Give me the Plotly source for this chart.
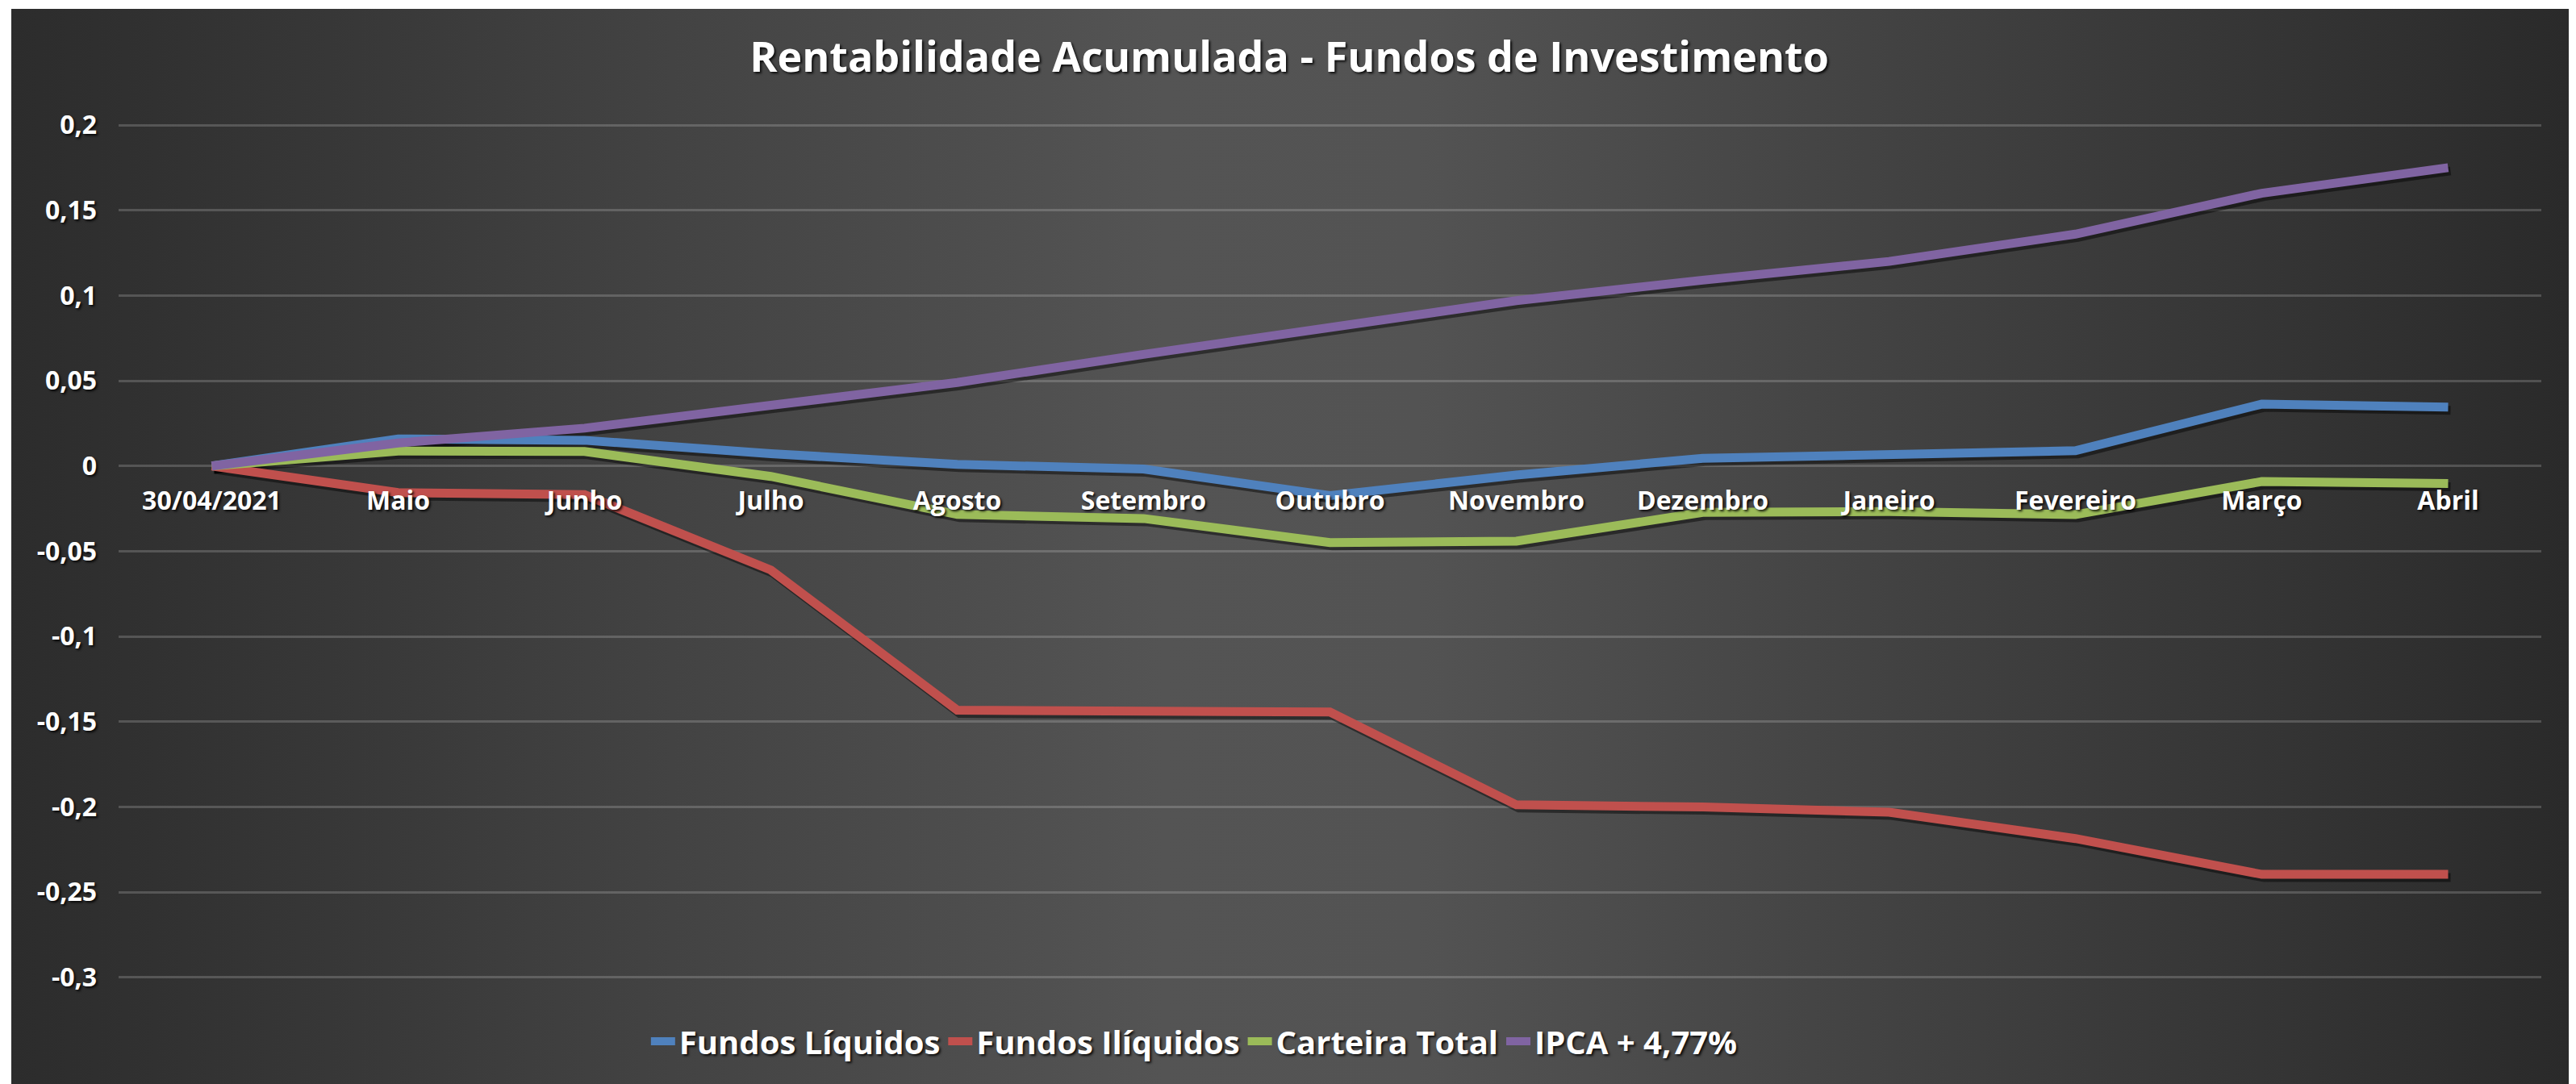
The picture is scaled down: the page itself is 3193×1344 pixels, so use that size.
import base64
import plotly.graph_objects as go

# ---------------- data ----------------
categories = ["30/04/2021", "Maio", "Junho", "Julho", "Agosto", "Setembro", "Outubro",
              "Novembro", "Dezembro", "Janeiro", "Fevereiro", "Março", "Abril"]
fundos_liquidos = [0, 0.0159, 0.0151, 0.0072, 0.0010, -0.0018, -0.0173,
                   -0.0053, 0.0045, 0.0073, 0.0090, 0.0363, 0.0345]
fundos_iliquidos = [0, -0.0156, -0.0168, -0.0610, -0.1432, -0.1443, -0.1443,
                    -0.1987, -0.2000, -0.2030, -0.2185, -0.2395, -0.2395]
carteira_total = [0, 0.0088, 0.0085, -0.0061, -0.0284, -0.0308, -0.0449,
                  -0.0441, -0.0272, -0.0267, -0.0285, -0.0091, -0.0103]
ipca = [0, 0.0135, 0.0222, 0.0350, 0.0490, 0.0655, 0.0817,
        0.0970, 0.1090, 0.1200, 0.1360, 0.1600, 0.1750]
series_names = ["Fundos Líquidos", "Fundos Ilíquidos", "Carteira Total", "IPCA + 4,77%"]
series_values = [fundos_liquidos, fundos_iliquidos, carteira_total, ipca]
y_tickvals = [0.2, 0.15, 0.1, 0.05, 0, -0.05, -0.1, -0.15, -0.2, -0.25, -0.3]
y_ticktext = ["0,2", "0,15", "0,1", "0,05", "0", "-0,05", "-0,1", "-0,15", "-0,2", "-0,25", "-0,3"]
title_text = "Rentabilidade Acumulada - Fundos de Investimento"

# ---------------- styling ----------------
colors = ["#4F81BD", "#C0504D", "#9BBB59", "#8064A2"]
W, H = 3185, 1336            # page has an 8px body margin
ML, MR, MT, MB = 139, 43, 112, 104
plot_w = W - ML - MR
plot_h = H - MT - MB
y_range = [-0.31325, 0.21656]
x_range = [-0.5, len(categories) - 0.5]
shadow_txt = "2px 2px 3px rgba(0,0,0,0.85)"
FONT = "Open Sans"

# shadow offset (pixels) converted to axis units
dx_px, dy_px = 3, 4
x_span = x_range[1] - x_range[0]
y_span = y_range[1] - y_range[0]
dx = dx_px * x_span / plot_w
dy = dy_px * y_span / plot_h
x_range_sh = [x_range[0] - dx, x_range[1] - dx]
y_range_sh = [y_range[0] + dy, y_range[1] + dy]

# background panel
BG_X, BG_Y, BG_W, BG_H = 6, 3, 3170, 1333
svg = (
    f'<svg xmlns="http://www.w3.org/2000/svg" width="{BG_W}" height="{BG_H}">'
    '<defs><linearGradient id="g" x1="0" y1="0" x2="1" y2="0">'
    '<stop offset="0" stop-color="#2c2c2c"/>'
    '<stop offset="0.45" stop-color="#545454"/>'
    '<stop offset="0.55" stop-color="#535353"/>'
    '<stop offset="1" stop-color="#2a2a2a"/>'
    '</linearGradient></defs>'
    f'<rect width="{BG_W}" height="{BG_H}" fill="url(#g)"/></svg>'
)
svg_uri = "data:image/svg+xml;base64," + base64.b64encode(svg.encode()).decode()

fig = go.Figure()

# shadows (main x/y, shifted range, hidden axes)
for name, vals in zip(series_names, series_values):
    fig.add_trace(go.Scatter(
        x=categories, y=vals, mode="lines", xaxis="x", yaxis="y",
        line=dict(color="rgba(0,0,0,0.45)", width=11),
        showlegend=False, hoverinfo="skip"))

# real lines (x2/y2, carries ticks and grid)
for name, vals, c in zip(series_names, series_values, colors):
    fig.add_trace(go.Scatter(
        x=categories, y=vals, mode="lines", name=name, xaxis="x2", yaxis="y2",
        line=dict(color=c, width=11)))

zero_pos = (0 - y_range[0]) / y_span

tick_font = dict(family=FONT, size=32, color="white", weight="bold", shadow=shadow_txt)

fig.update_layout(
    width=W, height=H,
    margin=dict(l=ML, r=MR, t=MT, b=MB),
    paper_bgcolor="white",
    plot_bgcolor="rgba(0,0,0,0)",
    title=dict(text=title_text, x=1590 / W, xref="container", y=1 - 63 / H, yref="container",
               xanchor="center", yanchor="middle",
               font=dict(family=FONT, size=52, color="white", weight="bold", shadow=shadow_txt)),
    xaxis=dict(type="category", categoryorder="array", categoryarray=categories,
               range=x_range_sh, visible=False),
    yaxis=dict(range=y_range_sh, visible=False),
    xaxis2=dict(type="category", categoryorder="array", categoryarray=categories,
                range=x_range, overlaying="x", anchor="free", position=zero_pos,
                showgrid=False, zeroline=False, showline=False,
                ticks="", ticklabelstandoff=21, tickfont=tick_font),
    yaxis2=dict(range=y_range, overlaying="y", anchor="x2", side="left",
                tickvals=y_tickvals, ticktext=y_ticktext,
                showgrid=True, gridcolor="rgba(255,255,255,0.18)", gridwidth=3,
                zeroline=False, showline=False, ticks="", ticklabelstandoff=26,
                tickfont=tick_font),
    legend=dict(orientation="h", x=0.444, xanchor="center", y=-0.0455, yanchor="middle",
                bgcolor="rgba(0,0,0,0)",
                font=dict(family=FONT, size=40, color="white", weight="bold", shadow=shadow_txt)),
    images=[dict(source=svg_uri, xref="paper", yref="paper",
                 x=(BG_X - ML) / plot_w, y=(H - MB - BG_Y) / plot_h,
                 sizex=BG_W / plot_w, sizey=BG_H / plot_h,
                 xanchor="left", yanchor="top", sizing="stretch", layer="below")],
    showlegend=True,
)

fig.write_html("out.html")
